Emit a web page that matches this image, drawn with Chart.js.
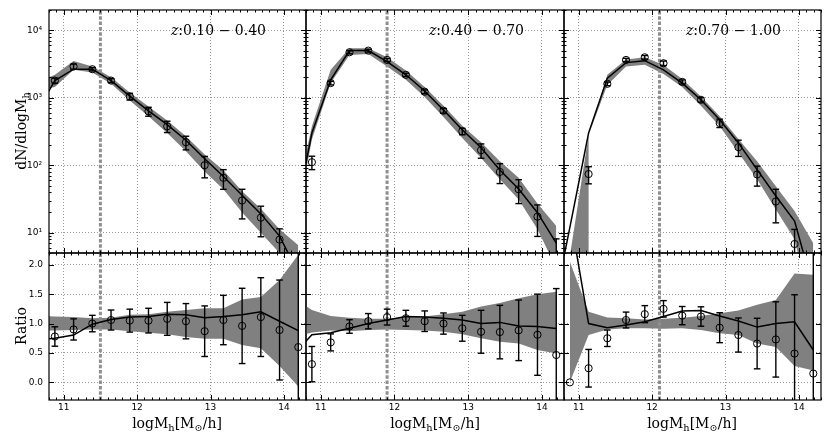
<!DOCTYPE html>
<html>
<head>
<meta charset="utf-8">
<script src="https://cdn.jsdelivr.net/npm/chart.js@4.4.1/dist/chart.umd.min.js"></script>
<style>
  body { margin: 0; background: #fff; }
  #wrap { position: relative; width: 830px; height: 443px; overflow: hidden; }
  canvas { position: absolute; left: 0; top: 0; }
  .lab { position: absolute; font-family: "DejaVu Serif", serif; font-size: 14px; color: #000; white-space: nowrap; line-height: 1; }
  .lab sub { font-size: 70%; vertical-align: -0.3em; line-height: 0; }
  .c { transform: translate(-50%, -50%); }
  .rot { transform: translate(-50%, -50%) rotate(-90deg); }
  .rt { transform: translate(-100%, -50%); }
</style>
</head>
<body>
<div id="wrap">
  <canvas id="c0" width="830" height="443"></canvas>
  <canvas id="c1" width="830" height="443"></canvas>
  <canvas id="c2" width="830" height="443"></canvas>
  <canvas id="c3" width="830" height="443"></canvas>
  <canvas id="c4" width="830" height="443"></canvas>
  <canvas id="c5" width="830" height="443"></canvas>

  <div class="lab rot" style="left:21px;top:131px">dN/dlogM<sub>h</sub></div>
  <div class="lab rot" style="left:21px;top:326px">Ratio</div>
  <div class="lab c" style="left:177px;top:423px">logM<sub>h</sub>[M<sub>⊙</sub>/h]</div>
  <div class="lab c" style="left:435px;top:423px">logM<sub>h</sub>[M<sub>⊙</sub>/h]</div>
  <div class="lab c" style="left:692px;top:423px">logM<sub>h</sub>[M<sub>⊙</sub>/h]</div>
  <div class="lab rt" style="left:266px;top:30px"><i>z</i>:0.10 − 0.40</div>
  <div class="lab rt" style="left:524px;top:30px"><i>z</i>:0.40 − 0.70</div>
  <div class="lab rt" style="left:781px;top:30px"><i>z</i>:0.70 − 1.00</div>
</div>
<script>
// bin centres (first one sits just left of the plotted range)
var binX = [10.625, 10.88, 11.135, 11.39, 11.645, 11.90, 12.155, 12.41, 12.665, 12.92, 13.175, 13.43, 13.685, 13.94, 14.195];
var xTicks = [11, 12, 13, 14];
var dnTicks = [10, 100, 1000, 10000];
var ratioTicks = [0, 0.5, 1, 1.5, 2];
var xRange = [10.8, 14.3];
var dnRange = [5, 20000];
var ratioRange = [-0.3, 2.2];
var cutX = [11.5, 11.9, 12.1];

// z: 0.10 - 0.40
var dn1 = [null, 1800, 2900, 2650, 1800, 1045, 628, 377, 219, 100, 65, 30, 16.7, 7.9, 1.7];
var dnErr1 = [null, 150, 250, 150, 120, 120, 95, 72, 50, 35, 21, 14, 8, 3.5, 2];
var model1 = [600, 1800, 2650, 2650, 1800, 1060, 640, 400, 235, 125, 68, 36, 19, 8.9, 2.5];
var up1 = [1700, 2190, 3520, 2900, 2020, 1200, 740, 462, 270, 144, 84, 41, 22.7, 11.2, 6.5];
var lo1 = [1290, 1440, 2600, 2370, 1610, 910, 530, 300, 161, 81, 44, 20, 10, 5, 2];
var r1 = [null, 0.78, 0.90, 1.0, 1.06, 1.05, 1.05, 1.08, 1.04, 0.87, 1.06, 0.96, 1.11, 0.89, 0.60];
var rErr1 = [null, 0.165, 0.18, 0.14, 0.17, 0.195, 0.21, 0.28, 0.30, 0.43, 0.42, 0.64, 0.67, 0.85, 2.5];
var rModel1 = [0.72, 0.75, 0.805, 0.99, 1.07, 1.11, 1.12, 1.16, 1.15, 1.10, 1.12, 1.15, 1.20, 1.04, 0.88];
var rUp1 = [1.14, 1.12, 1.11, 1.09, 1.10, 1.15, 1.16, 1.20, 1.23, 1.26, 1.26, 1.41, 1.45, 1.74, 2.17];
var rLo1 = [0.88, 0.88, 0.89, 0.90, 0.90, 0.87, 0.845, 0.82, 0.77, 0.74, 0.74, 0.635, 0.58, 0.28, -0.07];

// z: 0.40 - 0.70
var dn2 = [null, 111, 1650, 4730, 5000, 3640, 2190, 1230, 642, 318, 167, 79.5, 44, 17.3, 3.6];
var dnErr2 = [null, 25, 100, 250, 250, 200, 120, 80, 50, 35, 40, 26, 17, 8.5, 4.5];
var model2 = [12, 300, 1850, 5000, 5000, 3440, 2190, 1260, 660, 335, 182, 85, 44.5, 19.8, 7];
var up2 = [20, 377, 2600, 5420, 5420, 3980, 2530, 1440, 762, 385, 219, 115, 65, 27, 12.6];
var lo2 = [8, 240, 1650, 4310, 4470, 2900, 1850, 1023, 519, 254, 128, 62, 31, 11.2, 3];
var r2 = [null, 0.31, 0.68, 0.95, 1.04, 1.11, 1.09, 1.04, 1.0, 0.92, 0.86, 0.855, 0.885, 0.81, 0.465];
var rErr2 = [null, 0.30, 0.145, 0.115, 0.13, 0.135, 0.135, 0.175, 0.18, 0.22, 0.365, 0.455, 0.515, 0.69, 1.13];
var rModel2 = [0.46, 0.81, 0.845, 0.92, 1.0, 1.06, 1.12, 1.11, 1.09, 1.06, 1.0, 1.02, 0.96, 0.95, 0.915];
var rUp2 = [1.45, 1.23, 1.13, 1.10, 1.08, 1.08, 1.11, 1.12, 1.16, 1.20, 1.29, 1.35, 1.43, 1.50, 1.54];
var rLo2 = [0.76, 0.85, 0.88, 0.87, 0.89, 0.90, 0.89, 0.88, 0.86, 0.82, 0.75, 0.69, 0.66, 0.55, 0.49];

// z: 0.70 - 1.00
var dn3 = [null, null, 74, 1610, 3640, 3980, 3250, 1720, 933, 422, 185, 73, 29, 6.8, 0.4];
var dnErr3 = [null, null, 21, 100, 200, 250, 250, 120, 70, 60, 50, 24, 15, 4.4, 1];
var model3 = [0.5, 12, 300, 1955, 3320, 3550, 2600, 1650, 933, 473, 214, 86, 35, 14.9, 1.5];
var up3 = [null, 4.5, 280, 2200, 3700, 3980, 3070, 1890, 1045, 530, 245, 115, 49, 21, 7];
var lo3 = [null, 0, 0, 1550, 2900, 3080, 2260, 1440, 760, 377, 155, 62, 22, 8, 0.5];
var r3 = [null, 0.0, 0.24, 0.75, 1.06, 1.16, 1.25, 1.135, 1.12, 0.93, 0.805, 0.66, 0.73, 0.49, 0.15];
var rErr3 = [null, 0, 0.32, 0.14, 0.135, 0.145, 0.14, 0.155, 0.165, 0.255, 0.29, 0.43, 0.64, 1.0, 2.5];
var rModel3 = [null, 2.86, 1.0, 0.93, 0.976, 1.03, 1.12, 1.215, 1.22, 1.13, 1.045, 0.94, 1.0, 1.03, 0.55];
var rUp3 = [null, 2.05, 1.2, 1.105, 1.09, 1.07, 1.08, 1.1, 1.13, 1.175, 1.22, 1.32, 1.4, 1.85, 1.83];
var rLo3 = [null, 0.0, 0.805, 0.9, 0.92, 0.92, 0.91, 0.92, 0.89, 0.835, 0.805, 0.66, 0.6, 0.28, 0.2];

var cols = [{l: 49, r: 306}, {l: 306, r: 564}, {l: 564, r: 821}];
var rows = {top: {t: 10, b: 253}, bot: {t: 253, b: 400}};
var sup = ['⁰', '¹', '²', '³', '⁴', '⁵'];
var tickFont = {family: 'DejaVu Sans', size: 9};

// minor tick positions
var xMinor = [];
for (var k = 108; k <= 143; k++) xMinor.push(k / 10);
var dnMinor = [];
[1, 10, 100, 1000, 10000].forEach(function(d) {
    for (var m = 2; m <= 9; m++) {
        if (m * d >= dnRange[0] && m * d <= dnRange[1]) dnMinor.push(m * d);
    }
});

// turn value lists into {x,y} points
function pts(vals) {
    return binX.map(function(x, i) { return {x: x, y: vals[i]}; });
}

// band edges; on a log axis a zero lower edge drops straight out of the plot
function bandPts(up, lo, floor) {
    var u = [], l = [];
    binX.forEach(function(x, i) {
        if (up[i] == null) return;
        if (floor && lo[i] <= 0) {
            u.push({x: x, y: up[i]}); l.push({x: x, y: floor});
            if (lo[i + 1] > 0) { u.push({x: x, y: up[i]}); l.push({x: x, y: up[i]}); }
        } else {
            u.push({x: x, y: up[i]}); l.push({x: x, y: lo[i]});
        }
    });
    return [u, l];
}

function seg(ctx, x1, y1, x2, y2) {
    ctx.beginPath(); ctx.moveTo(x1, y1); ctx.lineTo(x2, y2); ctx.stroke();
}

// axes sit in a fixed box, no extra room for label overhang
function noOverhang(s) {
    s.paddingTop = 0; s.paddingBottom = 0; s.paddingLeft = 0; s.paddingRight = 0;
}

var frameTicks = {
    id: 'frameTicks',
    afterDraw: function(chart, args, o) {
        var ctx = chart.ctx, a = chart.chartArea, xs = chart.scales.x, ys = chart.scales.y;
        ctx.save();
        ctx.strokeStyle = '#000';
        ctx.lineWidth = 1;
        function xt(v, len) {
            var p = Math.round(xs.getPixelForValue(v)) + 0.5;
            seg(ctx, p, a.bottom, p, a.bottom - len);
            seg(ctx, p, a.top, p, a.top + len);
        }
        function yt(v, len) {
            var p = Math.round(ys.getPixelForValue(v)) + 0.5;
            seg(ctx, a.left, p, a.left + len, p);
            seg(ctx, a.right, p, a.right - len, p);
        }
        xMinor.forEach(function(v) { xt(v, 2.5); });
        xTicks.forEach(function(v) { xt(v, 5); });
        (o.yMinor || []).forEach(function(v) { yt(v, 2.5); });
        o.yMajor.forEach(function(v) { yt(v, 5); });
        ctx.lineWidth = 1.2;
        ctx.strokeRect(a.left, a.top, a.right - a.left, a.bottom - a.top);
        ctx.restore();
    }
};

var errorBars = {
    id: 'errorBars',
    afterDatasetsDraw: function(chart, args, o) {
        var ctx = chart.ctx, a = chart.chartArea, xs = chart.scales.x, ys = chart.scales.y;
        ctx.save();
        ctx.beginPath();
        ctx.rect(a.left, a.top, a.right - a.left, a.bottom - a.top);
        ctx.clip();
        ctx.strokeStyle = '#000';
        ctx.lineWidth = 1.4;
        o.vals.forEach(function(v, i) {
            if (v == null || !o.errs[i]) return;
            var px = xs.getPixelForValue(binX[i]);
            var low = v - o.errs[i];
            if (o.log && low <= 0) low = dnRange[0] / 100;
            var y1 = ys.getPixelForValue(v + o.errs[i]);
            var y2 = ys.getPixelForValue(low);
            seg(ctx, px, y1, px, y2);
            seg(ctx, px - 3.3, y1, px + 3.3, y1);
            seg(ctx, px - 3.3, y2, px + 3.3, y2);
        });
        ctx.restore();
    }
};

function makePanel(id, col, row, p) {
    var c = cols[col], r = rows[row];
    var yr = p.log ? dnRange : ratioRange;
    var yt = p.log ? dnTicks : ratioTicks;
    var band = bandPts(p.up, p.lo, p.log ? 0.01 : null);

    new Chart(document.getElementById(id), {
        type: 'line',
        data: {
            datasets: [{
                data: band[0], borderWidth: 0, pointRadius: 0, fill: false, order: 5
            }, {
                data: band[1], borderWidth: 0, pointRadius: 0, fill: '-1',
                backgroundColor: '#808080', order: 5
            }, {
                data: [{x: p.cut, y: yr[0]}, {x: p.cut, y: yr[1]}],
                borderColor: '#8f8f8f', borderWidth: 3, borderDash: [3.5, 1.8], pointRadius: 0, order: 4
            }, {
                data: pts(p.model), borderColor: '#000', borderWidth: 1.5, pointRadius: 0, order: 3
            }, {
                data: pts(p.vals), showLine: false, pointRadius: 3.6, pointBorderWidth: 1,
                pointBorderColor: '#000', pointBackgroundColor: 'rgba(0,0,0,0)', order: 2
            }]
        },
        options: {
            responsive: false,
            animation: false,
            events: [],
            // the axes take the room left and below the plot box, padding the rest
            layout: {autoPadding: false, padding: {left: 0, right: 830 - c.r, top: r.t, bottom: 0}},
            plugins: {
                legend: {display: false},
                tooltip: {enabled: false},
                errorBars: {vals: p.vals, errs: p.errs, log: p.log},
                frameTicks: {yMajor: yt, yMinor: p.log ? dnMinor : []}
            },
            scales: {
                x: {
                    type: 'linear', min: xRange[0], max: xRange[1],
                    afterFit: function(s) { s.height = 443 - r.b; noOverhang(s); },
                    afterBuildTicks: function(s) { s.ticks = xTicks.map(function(v) { return {value: v}; }); },
                    grid: {color: 'rgba(0,0,0,0.5)', lineWidth: 0.8, drawTicks: false, borderDash: [1, 2]},
                    border: {display: false, dash: [1, 2]},
                    ticks: {display: row === 'bot', padding: 2, color: '#000', font: tickFont, autoSkip: false,
                        maxRotation: 0, callback: function(v) { return String(v); }}
                },
                y: {
                    type: p.log ? 'logarithmic' : 'linear', min: yr[0], max: yr[1],
                    afterFit: function(s) { s.width = c.l; noOverhang(s); },
                    afterBuildTicks: function(s) { s.ticks = yt.map(function(v) { return {value: v}; }); },
                    grid: {color: 'rgba(0,0,0,0.5)', lineWidth: 0.8, drawTicks: false, borderDash: [1, 2]},
                    border: {display: false, dash: [1, 2]},
                    ticks: {display: col === 0, padding: p.log ? 7 : 6, color: '#000', font: tickFont, autoSkip: false,
                        callback: function(v) {
                            return p.log ? '10' + sup[Math.round(Math.log10(v))] : Number(v).toFixed(1);
                        }}
                }
            }
        },
        plugins: [errorBars, frameTicks]
    });
}

makePanel('c0', 0, 'top', {log: true, up: up1, lo: lo1, model: model1, vals: dn1, errs: dnErr1, cut: cutX[0]});
makePanel('c1', 1, 'top', {log: true, up: up2, lo: lo2, model: model2, vals: dn2, errs: dnErr2, cut: cutX[1]});
makePanel('c2', 2, 'top', {log: true, up: up3, lo: lo3, model: model3, vals: dn3, errs: dnErr3, cut: cutX[2]});
makePanel('c3', 0, 'bot', {log: false, up: rUp1, lo: rLo1, model: rModel1, vals: r1, errs: rErr1, cut: cutX[0]});
makePanel('c4', 1, 'bot', {log: false, up: rUp2, lo: rLo2, model: rModel2, vals: r2, errs: rErr2, cut: cutX[1]});
makePanel('c5', 2, 'bot', {log: false, up: rUp3, lo: rLo3, model: rModel3, vals: r3, errs: rErr3, cut: cutX[2]});
</script>
</body>
</html>
